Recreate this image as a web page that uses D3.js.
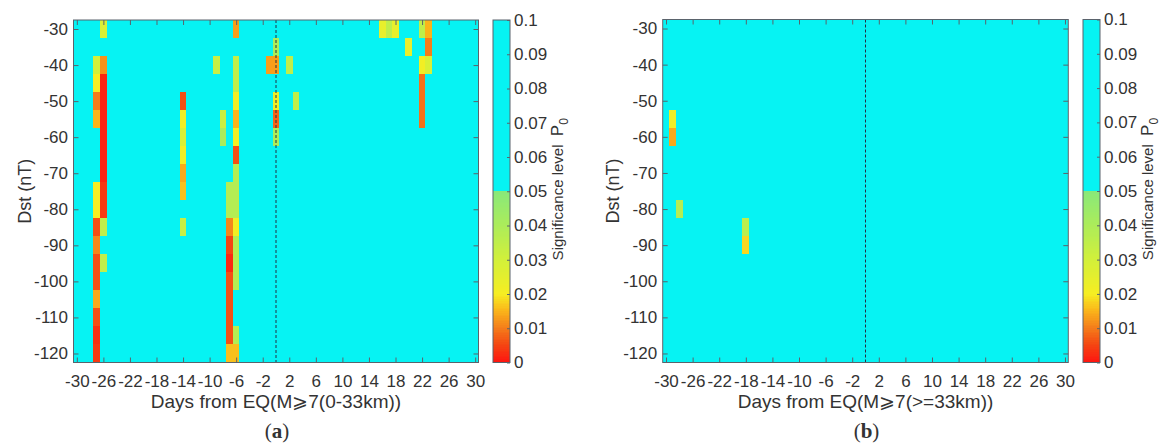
<!DOCTYPE html>
<html><head><meta charset="utf-8">
<script src="https://cdn.jsdelivr.net/npm/d3@7"></script>
<style>
body{margin:0;background:#fff}
svg{display:block}
text{font-family:"Liberation Sans",Arial,sans-serif;fill:#333}
</style>
</head><body>
<svg id="chart" width="1166" height="446"></svg>
<script>
// ---------- categories ----------
const days = [-30,-29,-28,-27,-26,-25,-24,-23,-22,-21,-20,-19,-18,-17,-16,-15,-14,-13,-12,-11,-10,-9,-8,-7,-6,-5,-4,-3,-2,-1,0,1,2,3,4,5,6,7,8,9,10,11,12,13,14,15,16,17,18,19,20,21,22,23,24,25,26,27,28,29,30];
const dstLevels = [-30,-35,-40,-45,-50,-55,-60,-65,-70,-75,-80,-85,-90,-95,-100,-105,-110,-115,-120];
const xTicks = [-30,-26,-22,-18,-14,-10,-6,-2,2,6,10,14,18,22,26,30];
const yTicks = [-30,-40,-50,-60,-70,-80,-90,-100,-110,-120];
const cbTicks = [0,0.01,0.02,0.03,0.04,0.05,0.06,0.07,0.08,0.09,0.1];
const cbTickLabels = ["0","0.01","0.02","0.03","0.04","0.05","0.06","0.07","0.08","0.09","0.1"];
const notSignificantP = 0.1;

// ---------- panel (a): significant cells (p < 0.05) ----------
const sigDaysA = [-27,-26,-14,-9,-8,-7,-6,-1,0,2,3,16,17,18,20,22,23];
const sigDstA = [
  [-40,-45,-50,-55,-75,-80,-85,-90,-95,-100,-105,-110,-115,-120],
  [-30,-40,-45,-50,-55,-60,-65,-70,-75,-80,-85,-95],
  [-50,-55,-60,-65,-70,-75,-85],
  [-40],
  [-55,-60],
  [-75,-80,-85,-90,-95,-100,-105,-110,-115,-120],
  [-30,-40,-45,-50,-55,-60,-65,-70,-75,-80,-85,-90,-95,-100,-115,-120],
  [-40],
  [-35,-40,-50,-55,-60],
  [-40],
  [-50],
  [-30],
  [-30],
  [-30],
  [-35],
  [-30,-40,-45,-50,-55],
  [-30,-35,-40]
];
const sigPA = [
  [0.03,0.02,0.01,0.015,0.02,0.02,0.006,0.011,0.006,0.006,0.014,0.006,0.003,0.004],
  [0.028,0.012,0.002,0.002,0.002,0.002,0.002,0.002,0.004,0.004,0.035,0.035],
  [0.006,0.021,0.028,0.021,0.014,0.016,0.033],
  [0.033],
  [0.032,0.04],
  [0.038,0.038,0.011,0.005,0.002,0.006,0.006,0.006,0.006,0.016],
  [0.013,0.035,0.035,0.021,0.015,0.021,0.006,0.038,0.038,0.038,0.021,0.038,0.038,0.038,0.038,0.016],
  [0.013],
  [0.04,0.013,0.022,0.008,0.04],
  [0.035],
  [0.035],
  [0.024],
  [0.035],
  [0.024],
  [0.024],
  [0.035,0.021,0.009,0.009,0.009],
  [0.015,0.01,0.028]
];

// ---------- panel (b): significant cells ----------
const sigDaysB = [-29,-28,-18];
const sigDstB = [[-55,-60],[-80],[-85,-90]];
const sigPB = [[0.022,0.014],[0.038],[0.036,0.018]];

// ---------- colour map ----------
const cmapStops  = [0, 0.005, 0.01, 0.015, 0.02, 0.03, 0.04, 0.05];
const cmapColors = ["#ff1410","#f44412","#f47c1a","#fab41a","#f6ee22","#d2f03a","#acec5a","#88e87a"];
const cyanColor = "#06f3f3";
const lowScale = d3.scaleLinear().domain(cmapStops).range(cmapColors).clamp(true);
const color = p => p >= 0.05 ? cyanColor : lowScale(p);

const frameColor = "#5a636c";
const svg = d3.select("#chart");
const fmtInt = d => String(d);
const tickFs = 17;

function drawPanel(cfg){
  const g = svg.append("g");
  const x = d3.scaleLinear().domain([-30.5, 30.5]).range([cfg.x0, cfg.x1]);
  const y = d3.scaleLinear().domain([-27.5, -122.5]).range([cfg.y0, cfg.y1]);

  const lookup = new Map();
  cfg.sigDays.forEach((d,i)=>cfg.sigDst[i].forEach((s,j)=>lookup.set(d+"|"+s, cfg.sigP[i][j])));
  const grid = [];
  days.forEach(d=>dstLevels.forEach(s=>{
    const k = d+"|"+s;
    grid.push({day:d, dst:s, p: lookup.has(k) ? lookup.get(k) : notSignificantP});
  }));

  g.append("g").selectAll("rect").data(grid).join("rect")
    .attr("x", d=>x(d.day-0.5))
    .attr("width", d=>x(d.day+0.5)-x(d.day-0.5))
    .attr("y", d=>y(d.dst+2.5))
    .attr("height", d=>y(d.dst-2.5)-y(d.dst+2.5))
    .attr("fill", d=>color(d.p))
    .attr("shape-rendering","crispEdges");

  // dashed EQ-day line
  g.append("line")
    .attr("x1", x(0)).attr("x2", x(0))
    .attr("y1", cfg.y0).attr("y2", cfg.y1)
    .attr("stroke", "#223044").attr("stroke-width", 1)
    .attr("stroke-dasharray", "3,2");

  const styleAxis = (sel, fs) => {
    sel.select(".domain").remove();
    sel.attr("font-family", null).attr("font-size", null);
    sel.selectAll(".tick line").attr("stroke", frameColor);
    sel.selectAll(".tick text").style("font-size", fs+"px").attr("fill", "#333");
  };

  g.append("g").attr("transform", `translate(0,${cfg.y1})`)
    .call(d3.axisBottom(x).tickValues(xTicks).tickFormat(fmtInt).tickSize(-5).tickPadding(12.5))
    .call(s=>styleAxis(s,tickFs));
  g.append("g").attr("transform", `translate(0,${cfg.y0})`)
    .call(d3.axisTop(x).tickValues(xTicks).tickSize(-5).tickFormat(""))
    .call(s=>styleAxis(s,tickFs));
  g.append("g").attr("transform", `translate(${cfg.x0},0)`)
    .call(d3.axisLeft(y).tickValues(yTicks).tickFormat(fmtInt).tickSize(-5).tickPadding(5.5))
    .call(s=>styleAxis(s,tickFs));
  g.append("g").attr("transform", `translate(${cfg.x1},0)`)
    .call(d3.axisRight(y).tickValues(yTicks).tickSize(-5).tickFormat(""))
    .call(s=>styleAxis(s,tickFs));

  g.append("rect")
    .attr("x", cfg.x0).attr("y", cfg.y0)
    .attr("width", cfg.x1-cfg.x0).attr("height", cfg.y1-cfg.y0)
    .attr("fill","none").attr("stroke", frameColor).attr("stroke-width",1);

  // titles
  g.append("text")
    .attr("transform", `translate(${cfg.yTitleX},${(cfg.y0+cfg.y1)/2}) rotate(-90)`)
    .attr("text-anchor","middle").style("font-size","18px")
    .text("Dst (nT)");
  g.append("text")
    .attr("x", x(0)).attr("y", 408)
    .attr("text-anchor","middle").style("font-size","19px")
    .text(cfg.xTitle);
  const tag = g.append("text")
    .attr("x", x(0)+1).attr("y", 438)
    .attr("text-anchor","middle")
    .style("font-family",'"Liberation Serif","DejaVu Serif",serif')
    .style("font-size","21px").attr("fill","#111");
  tag.append("tspan").text("(");
  tag.append("tspan").style("font-weight","bold").text(cfg.tag);
  tag.append("tspan").text(")");

  // colour bar
  const cy = d3.scaleLinear().domain([0, 0.1]).range([cfg.y1, cfg.y0]);
  const step = 0.0005;
  const slices = d3.range(0, 0.1, step);
  g.append("g").selectAll("rect").data(slices).join("rect")
    .attr("x", cfg.cbX0).attr("width", cfg.cbX1-cfg.cbX0)
    .attr("y", v=>cy(Math.min(v+step,0.1)))
    .attr("height", v=>cy(v)-cy(Math.min(v+step,0.1)))
    .attr("fill", v=>color(v+step/2))
    .attr("shape-rendering","crispEdges");
  g.append("rect")
    .attr("x", cfg.cbX0).attr("y", cfg.y0)
    .attr("width", cfg.cbX1-cfg.cbX0).attr("height", cfg.y1-cfg.y0)
    .attr("fill","none").attr("stroke", frameColor).attr("stroke-width",1);
  g.append("g").attr("transform", `translate(${cfg.cbX1},0)`)
    .call(d3.axisRight(cy).tickValues(cbTicks).tickFormat((d,i)=>cbTickLabels[i]).tickSize(-3).tickPadding(4))
    .call(s=>styleAxis(s,tickFs));

  const lab = g.append("text")
    .attr("transform", `translate(${cfg.cbLabelX},${(cfg.y0+cfg.y1)/2 - 2}) rotate(-90)`)
    .attr("text-anchor","middle").style("font-size","15px");
  lab.append("tspan").text("Significance level\u00A0\u00A0");
  lab.append("tspan").style("font-size","17px").text("P");
  lab.append("tspan").attr("dy", 5).style("font-size","12px").text("0");
}

drawPanel({x0:73.5, x1:478.5, y0:20, y1:362.5, cbX0:493, cbX1:510,
  sigDays:sigDaysA, sigDst:sigDstA, sigP:sigPA,
  xTitle:"Days from EQ(M\u2A7E7(0-33km))", tag:"a", yTitleX:31, cbLabelX:563});
drawPanel({x0:662.7, x1:1068.3, y0:19.5, y1:362.5, cbX0:1083, cbX1:1100,
  sigDays:sigDaysB, sigDst:sigDstB, sigP:sigPB,
  xTitle:"Days from EQ(M\u2A7E7(>=33km))", tag:"b", yTitleX:619, cbLabelX:1153});
</script>
</body></html>
